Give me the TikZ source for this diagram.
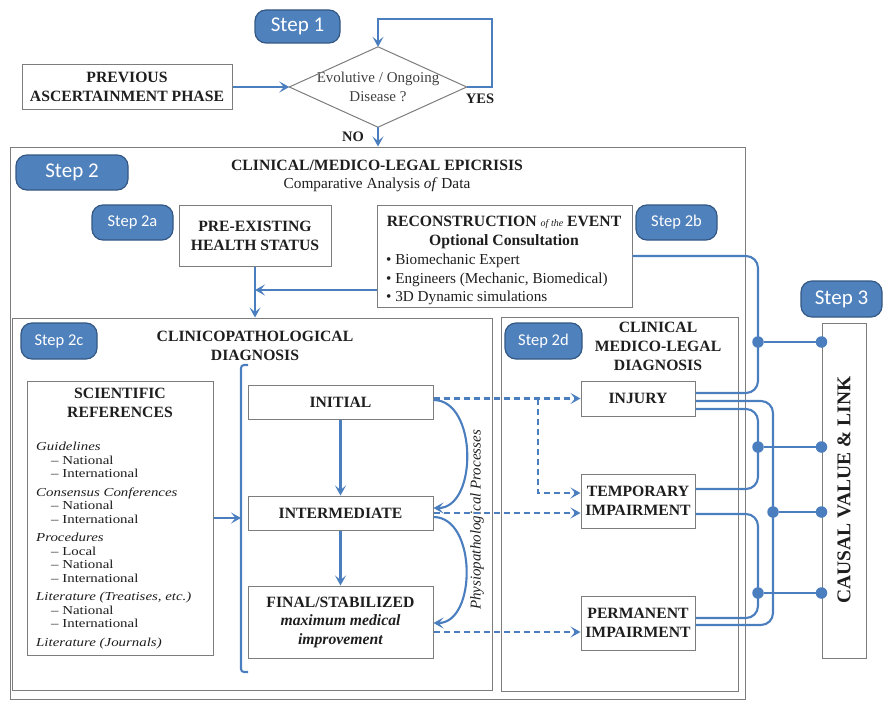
\documentclass[tikz,border=0pt]{standalone}
\usepackage{fontspec}
\setmainfont{Liberation Serif}
\newfontfamily\stepfont{Carlito}
\newfontfamily\listfont[FakeStretch=1.22]{Liberation Serif}
\usetikzlibrary{arrows.meta,calc}
\definecolor{lnblue}{RGB}{74,126,190}
\definecolor{stepfill}{RGB}{79,129,189}
\definecolor{stepdraw}{RGB}{52,88,132}
\definecolor{boxgray}{RGB}{125,125,125}
\definecolor{txt}{RGB}{30,30,30}
\newcommand\myfs[2]{\fontsize{#1}{#2}\selectfont}
\begin{document}
\begin{tikzpicture}[x=1pt,y=-1pt,
  box/.style={draw=boxgray, line width=1pt, inner sep=0pt, align=center, text=txt},
  outerbox/.style={draw=boxgray, line width=1pt, inner sep=0pt},
  lbl/.style={font=\myfs{15.7}{19}\bfseries, text=txt, inner sep=0pt, align=center},
  stepbig/.style={draw=stepdraw, fill=stepfill, line width=1.2pt, rounded corners=11pt, text=white, font=\stepfont\myfs{21}{24}, inner sep=0pt},
  stepsm/.style={stepbig, font=\stepfont\myfs{16.5}{20}},
  ln/.style={draw=lnblue, line width=2.1pt},
  arr/.style={ln, -{Stealth[length=10pt,width=11pt,inset=4.5pt]}},
  dsh/.style={arr, dash pattern=on 6pt off 4pt},
  jdot/.style={circle, fill=lnblue, inner sep=0pt, minimum size=11.5pt},
]
\useasboundingbox (0,0) rectangle (883,701);

% outer frames
\node[outerbox, minimum width=735pt, minimum height=552pt] (epic) at (377.5,423) {};
\node[outerbox, minimum width=480pt, minimum height=372pt] (cbox) at (252,504) {};
\node[outerbox, minimum width=237pt, minimum height=374pt] (dbox) at (619.5,504) {};

% step 1
\node[box, minimum width=210pt, minimum height=45pt, font=\myfs{15.7}{19}\bfseries] (prev) at (127,87) {PREVIOUS\\ASCERTAINMENT PHASE};
\node[inner sep=0pt, minimum width=177pt, minimum height=80pt, align=center, font=\myfs{15}{19}, text=txt!85] (dia) at (378,87) {Evolutive / Ongoing\\Disease ?};
\draw[draw=boxgray, line width=1pt] (dia.west) -- (dia.north) -- (dia.east) -- (dia.south) -- cycle;
\coordinate (loopTR) at (492,19);
\draw[arr] (dia.east) -| (loopTR) -| (dia.north);
\draw[arr] (prev.east) -- (dia.west);
\draw[arr] (dia.south) -- (dia.south |- epic.north);
\node[lbl, font=\myfs{14.5}{16}\bfseries] (yes) at (480,99) {YES};
\node[lbl, font=\myfs{14.5}{16}\bfseries] (no) at (353,137) {NO};

% steps
\node[stepbig, minimum width=85pt, minimum height=33pt] (s1) at (297.5,26.5) {Step 1};
\node[stepbig, minimum width=112pt, minimum height=35pt] (s2) at (72,172.5) {Step 2};
\node[stepsm, minimum width=81pt, minimum height=35pt] (s2a) at (132.5,222.5) {Step 2a};
\node[stepsm, minimum width=81pt, minimum height=35pt] (s2b) at (676.5,222.5) {Step 2b};
\node[stepsm, minimum width=76pt, minimum height=36pt] (s2c) at (59,341) {Step 2c};
\node[stepsm, minimum width=77pt, minimum height=36pt] (s2d) at (543.5,341) {Step 2d};
\node[stepbig, minimum width=81pt, minimum height=36pt] (s3) at (841.5,299) {Step 3};

% step 2 title
\node[align=center, inner sep=0pt, text=txt, font=\myfs{15.3}{18}] (epicT) at (377,176) {{\myfs{15.7}{18}\bfseries CLINICAL/MEDICO-LEGAL EPICRISIS}\\Comparative Analysis \textit{of} Data};

% 2a, 2b
\node[box, minimum width=152pt, minimum height=61pt, font=\myfs{15.7}{19}\bfseries] (pre) at (255,235.5) {PRE-EXISTING\\HEALTH STATUS};
\node[box, minimum width=255pt, minimum height=102pt] (recon) at (504.5,256) {};
\node[lbl] (reconT) at (504,232.5) {RECONSTRUCTION {\myfs{10}{12}\mdseries\itshape of the} EVENT\\Optional Consultation};
\node[align=left, inner sep=0pt, text=txt, font=\myfs{15.2}{18.7}, anchor=west] (reconB) at (386,279.5) {\textbullet\ Biomechanic Expert\\\textbullet\ Engineers (Mechanic, Biomedical)\\\textbullet\ 3D Dynamic simulations};
\coordinate (jn) at (255,290);
\draw[arr] (recon.west |- jn) -- (jn);
\draw[arr] (pre.south) -- (pre.south |- cbox.north);

% 2c
\node[lbl] (cT) at (255,346) {CLINICOPATHOLOGICAL\\DIAGNOSIS};
\node[box, minimum width=186pt, minimum height=274pt] (sci) at (120,518) {};
\node[lbl] (sciT) at (120,402.5) {SCIENTIFIC\\REFERENCES};
\node[anchor=north west, align=left, inner sep=0pt, text=txt, font=\listfont\myfs{12.2}{13.5}] (sciL) at (36,442) {\textit{Guidelines}\\
\hspace*{15pt}– National\\
\hspace*{15pt}– International\\[5pt]
\textit{Consensus Conferences}\\
\hspace*{15pt}– National\\
\hspace*{15pt}– International\\[5pt]
\textit{Procedures}\\
\hspace*{15pt}– Local\\
\hspace*{15pt}– National\\
\hspace*{15pt}– International\\[5pt]
\textit{Literature (Treatises, etc.)}\\
\hspace*{15pt}– National\\
\hspace*{15pt}– International\\[5pt]
\textit{Literature (Journals)}};
\draw[ln, rounded corners=3pt] (248,365) -- (241,365) -- (241,672) -- (248,672);
\coordinate (brk) at (241,518);
\draw[arr] (sci.east) -- (brk);

\node[box, minimum width=185pt, minimum height=34pt, font=\myfs{15.7}{19}\bfseries] (init) at (340.5,402) {INITIAL};
\node[box, minimum width=185pt, minimum height=34pt, font=\myfs{15.7}{19}\bfseries] (interm) at (340.5,513) {INTERMEDIATE};
\node[box, minimum width=185pt, minimum height=72pt, font=\myfs{15.7}{18.5}\bfseries] (final) at (340.5,622) {FINAL/STABILIZED\\\textit{maximum medical}\\\textit{improvement}};
\draw[arr] (init.south) -- (interm.north);
\draw[arr] (interm.south) -- (final.north);
\draw[arr] ([yshift=2pt]init.east) to[out=0,in=0,looseness=1.05] ([yshift=5pt]interm.east);
\draw[arr] ([yshift=-4pt]interm.east) to[out=0,in=0,looseness=1.05] ([yshift=-1pt]final.east);
\node[rotate=90, inner sep=0pt, text=txt, font=\myfs{15}{16}\itshape] (phys) at (477,520) {Physiopathological Processes};

% 2d
\node[lbl] (dT) at (658,346) {CLINICAL\\MEDICO-LEGAL\\DIAGNOSIS};
\node[box, minimum width=114pt, minimum height=35pt, font=\myfs{15.7}{19}\bfseries] (inj) at (638,398.5) {INJURY};
\node[box, minimum width=114pt, minimum height=54pt, font=\myfs{15.7}{18.5}\bfseries] (temp) at (638,501) {TEMPORARY\\IMPAIRMENT};
\node[box, minimum width=114pt, minimum height=54pt, font=\myfs{15.7}{18.5}\bfseries] (perm) at (638,623) {PERMANENT\\IMPAIRMENT};

\coordinate (brA) at (538,398.5);
\draw[dsh] (init.east |- inj.west) -- (inj.west);
\draw[dsh] (brA) |- ([yshift=8pt]temp.west);
\draw[dsh] (interm.east) -- (interm.east -| temp.west);
\draw[dsh] ([yshift=-10pt]final.east) -- ([yshift=-10pt]final.east -| perm.west);

% step 3
\node[box, minimum width=44pt, minimum height=335pt] (cvl) at (844,490.5) {};
\node[rotate=90, inner sep=0pt, text=txt, font=\myfs{19.5}{22}\bfseries] (cvlT) at (844,490) {CAUSAL VALUE \& LINK};

\coordinate (i1) at ([yshift=5.5pt]inj.east);
\coordinate (i2) at ([yshift=-2.5pt]inj.east);
\coordinate (i3) at ([yshift=-10.5pt]inj.east);
\coordinate (t1) at ([yshift=12pt]temp.east);
\coordinate (t2) at ([yshift=-13pt]temp.east);
\coordinate (p1) at ([yshift=5pt]perm.east);
\coordinate (p2) at ([yshift=-2pt]perm.east);
\coordinate (bA) at (758,0);
\coordinate (bB) at (773,0);

\draw[ln, rounded corners=12pt] (recon.east) -- (recon.east -| bA) -- (bA |- i1) -- (i1);
\draw[ln, rounded corners=12pt] (i3) -- (i3 -| bA) -- (bA |- t1) -- (t1);
\draw[ln, rounded corners=12pt] (i2) -- (i2 -| bB) -- (bB |- p2) -- (p2);
\draw[ln, rounded corners=12pt] (t2) -- (t2 -| bA) -- (bA |- p1) -- (p1);

\node[jdot] (dA1) at (758,342) {};
\node[jdot] (dA2) at (758,447) {};
\node[jdot] (dB3) at (773,512) {};
\node[jdot] (dA4) at (758,593) {};
\node[jdot] (c1) at (cvl.west |- dA1) {};
\node[jdot] (c2) at (cvl.west |- dA2) {};
\node[jdot] (c3) at (cvl.west |- dB3) {};
\node[jdot] (c4) at (cvl.west |- dA4) {};
\draw[ln] (dA1) -- (c1);
\draw[ln] (dA2) -- (c2);
\draw[ln] (dB3) -- (c3);
\draw[ln] (dA4) -- (c4);
\end{tikzpicture}
\end{document}
